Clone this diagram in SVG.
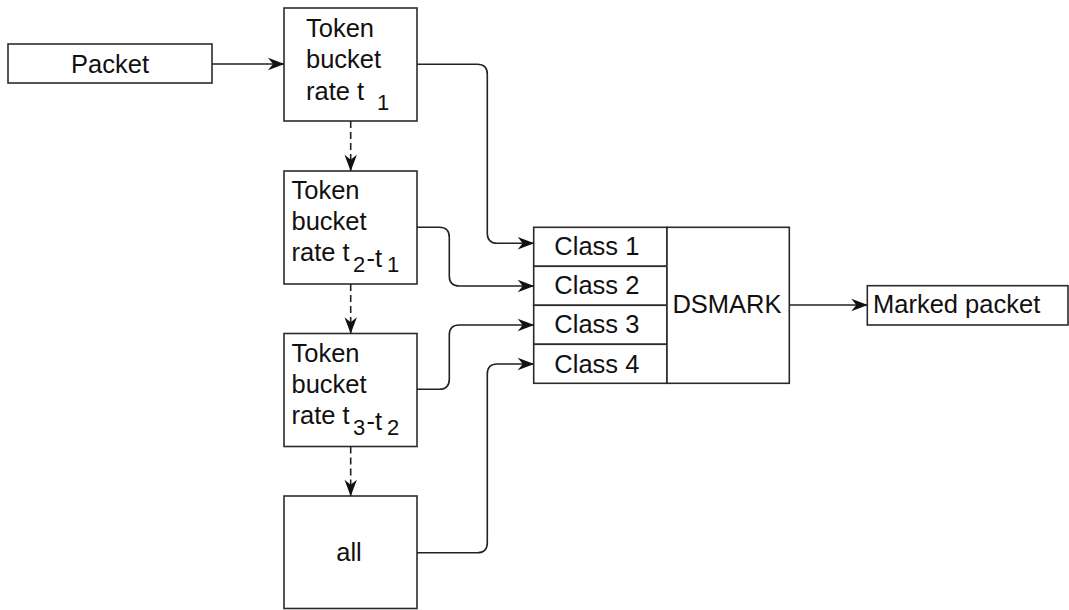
<svg xmlns="http://www.w3.org/2000/svg" width="1069" height="610" viewBox="0 0 1069 610">
  <defs>
    <style>
      .box { fill: #ffffff; stroke: #2b2b2b; stroke-width: 1.6; }
      .lbl { font-family: "Liberation Sans", Arial, sans-serif; font-size: 25.5px; fill: #111111; }
      .sub { font-family: "Liberation Sans", Arial, sans-serif; font-size: 22px; fill: #111111; }
      .edge { fill: none; stroke: #222222; stroke-width: 1.6; }
      .dash { stroke-dasharray: 7 4; }
    </style>
    <marker id="arrow" markerUnits="userSpaceOnUse" markerWidth="20" markerHeight="16" refX="17" refY="8" orient="auto">
      <path d="M17.5,8 L1,1.8 L6,8 L1,14.2 Z" fill="#111111"/>
    </marker>
  </defs>

  <rect width="1069" height="610" fill="#ffffff"/>

  <!-- Input packet -->
  <g id="packet">
    <rect class="box" x="8" y="44" width="204" height="39"/>
    <text class="lbl" x="110" y="72.7" text-anchor="middle">Packet</text>
  </g>

  <!-- Token bucket, rate t1 -->
  <g id="bucket1">
    <rect class="box" x="284" y="8" width="133" height="113"/>
    <text class="lbl" x="306" y="36.7">Token</text>
    <text class="lbl" x="306" y="68.3">bucket</text>
    <text class="lbl" x="306" y="100">rate t</text>
    <text class="sub" x="377" y="110">1</text>
  </g>

  <!-- Token bucket, rate t2-t1 -->
  <g id="bucket2">
    <rect class="box" x="284" y="171" width="133" height="113"/>
    <text class="lbl" x="291.5" y="199.3">Token</text>
    <text class="lbl" x="291.5" y="230">bucket</text>
    <text class="lbl" x="291.5" y="261">rate t</text>
    <text class="sub" x="353" y="271.7">2</text>
    <text class="lbl" x="366.5" y="266.5">-t</text>
    <text class="sub" x="387" y="271.7">1</text>
  </g>

  <!-- Token bucket, rate t3-t2 -->
  <g id="bucket3">
    <rect class="box" x="284" y="333.5" width="133" height="113"/>
    <text class="lbl" x="291.5" y="361.5">Token</text>
    <text class="lbl" x="291.5" y="392.5">bucket</text>
    <text class="lbl" x="291.5" y="424">rate t</text>
    <text class="sub" x="353" y="435">3</text>
    <text class="lbl" x="366.5" y="430">-t</text>
    <text class="sub" x="387" y="435">2</text>
  </g>

  <!-- Remaining traffic -->
  <g id="all">
    <rect class="box" x="284" y="496" width="133" height="112.5"/>
    <text class="lbl" x="349" y="561" text-anchor="middle">all</text>
  </g>

  <!-- DSMARK with its four class slots -->
  <g id="dsmark">
    <rect class="box" x="533.7" y="227.3" width="133.3" height="39"/>
    <rect class="box" x="533.7" y="266.3" width="133.3" height="39"/>
    <rect class="box" x="533.7" y="305.3" width="133.3" height="39"/>
    <rect class="box" x="533.7" y="344.3" width="133.3" height="39"/>
    <rect class="box" x="667" y="227.3" width="122.3" height="156"/>
    <text class="lbl" x="554.3" y="255">Class 1</text>
    <text class="lbl" x="554.3" y="294.3">Class 2</text>
    <text class="lbl" x="554.3" y="333.3">Class 3</text>
    <text class="lbl" x="554.3" y="372.7">Class 4</text>
    <text class="lbl" x="727" y="313.3" text-anchor="middle">DSMARK</text>
  </g>

  <!-- Output -->
  <g id="marked">
    <rect class="box" x="867.3" y="285.7" width="200.7" height="39.3"/>
    <text class="lbl" x="873" y="313.3">Marked packet</text>
  </g>

  <!-- Connectors -->
  <g id="connectors">
    <path class="edge" d="M212,64 H284" marker-end="url(#arrow)"/>
    <path class="edge dash" d="M350.7,121 V170.7" marker-end="url(#arrow)"/>
    <path class="edge dash" d="M350.7,284 V333.3" marker-end="url(#arrow)"/>
    <path class="edge dash" d="M350.7,446.5 V495.8" marker-end="url(#arrow)"/>
    <path class="edge" d="M417,64.3 H477.3 Q487.3,64.3 487.3,74.3 V233.3 Q487.3,243.3 497.3,243.3 H533.7" marker-end="url(#arrow)"/>
    <path class="edge" d="M417,227.3 H439.3 Q449.3,227.3 449.3,237.3 V276 Q449.3,286 459.3,286 H533.7" marker-end="url(#arrow)"/>
    <path class="edge" d="M417,389.3 H439.3 Q449.3,389.3 449.3,379.3 V335 Q449.3,325 459.3,325 H533.7" marker-end="url(#arrow)"/>
    <path class="edge" d="M417,552.7 H477.3 Q487.3,552.7 487.3,542.7 V374 Q487.3,364 497.3,364 H533.7" marker-end="url(#arrow)"/>
    <path class="edge" d="M789.3,305 H867.3" marker-end="url(#arrow)"/>
  </g>
</svg>
